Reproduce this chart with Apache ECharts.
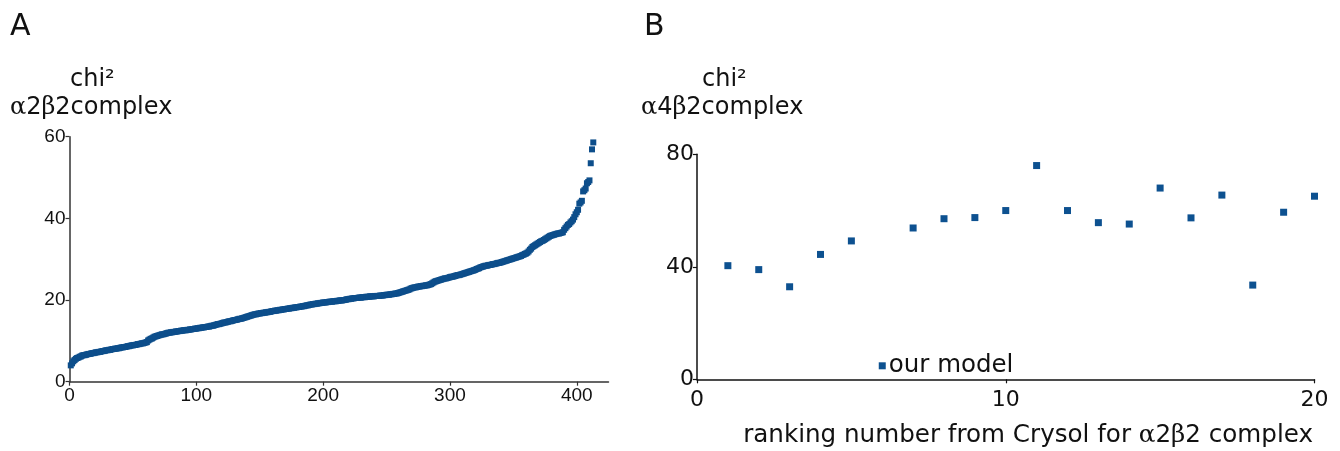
<!DOCTYPE html>
<html>
<head>
<meta charset="utf-8">
<script src="https://cdn.jsdelivr.net/npm/echarts@6/dist/echarts.min.js"></script>
<style>
  html, body { margin: 0; padding: 0; background: #fff; }
  #chart { width: 1340px; height: 451px; }
</style>
</head>
<body>
<div id="chart"></div>
<script>
// Panel A: chi² of every alpha2beta2 complex model, sorted by rank
const chiA = [
  4.0, 4.5, 5.0, 5.3, 5.6, 5.8, 5.9, 6.1, 6.2, 6.4,
  6.5, 6.5, 6.6, 6.7, 6.8, 6.8, 6.9, 7.0, 7.0, 7.1,
  7.2, 7.2, 7.3, 7.3, 7.4, 7.5, 7.5, 7.6, 7.7, 7.7,
  7.8, 7.8, 7.9, 8.0, 8.0, 8.1, 8.1, 8.2, 8.2, 8.3,
  8.4, 8.4, 8.5, 8.5, 8.6, 8.7, 8.7, 8.8, 8.9, 8.9,
  9.0, 9.0, 9.1, 9.2, 9.2, 9.3, 9.4, 9.4, 9.5, 9.6,
  9.7, 10.1, 10.3, 10.5, 10.6, 10.8, 11.0, 11.1, 11.2, 11.3,
  11.4, 11.5, 11.6, 11.6, 11.7, 11.8, 11.9, 12.0, 12.0, 12.1,
  12.1, 12.2, 12.2, 12.3, 12.3, 12.4, 12.4, 12.5, 12.5, 12.6,
  12.6, 12.6, 12.7, 12.7, 12.8, 12.8, 12.9, 12.9, 13.0, 13.0,
  13.1, 13.1, 13.2, 13.2, 13.3, 13.3, 13.4, 13.4, 13.5, 13.5,
  13.6, 13.7, 13.7, 13.8, 13.9, 14.0, 14.1, 14.1, 14.2, 14.3,
  14.4, 14.5, 14.5, 14.6, 14.7, 14.8, 14.8, 14.9, 15.0, 15.1,
  15.1, 15.2, 15.3, 15.4, 15.4, 15.5, 15.6, 15.7, 15.8, 15.9,
  16.0, 16.1, 16.2, 16.3, 16.4, 16.5, 16.5, 16.6, 16.7, 16.7,
  16.8, 16.8, 16.9, 16.9, 17.0, 17.0, 17.1, 17.1, 17.2, 17.3,
  17.3, 17.4, 17.4, 17.5, 17.5, 17.6, 17.6, 17.7, 17.7, 17.8,
  17.8, 17.9, 17.9, 18.0, 18.0, 18.1, 18.1, 18.2, 18.2, 18.3,
  18.3, 18.4, 18.4, 18.5, 18.5, 18.6, 18.7, 18.7, 18.8, 18.9,
  18.9, 19.0, 19.0, 19.1, 19.1, 19.2, 19.2, 19.3, 19.3, 19.4,
  19.4, 19.4, 19.5, 19.5, 19.6, 19.6, 19.6, 19.7, 19.7, 19.7,
  19.8, 19.8, 19.9, 19.9, 19.9, 20.0, 20.0, 20.1, 20.2, 20.2,
  20.3, 20.3, 20.4, 20.4, 20.5, 20.5, 20.5, 20.6, 20.6, 20.6,
  20.7, 20.7, 20.7, 20.8, 20.8, 20.8, 20.9, 20.9, 20.9, 20.9,
  21.0, 21.0, 21.0, 21.0, 21.1, 21.1, 21.1, 21.2, 21.2, 21.3,
  21.3, 21.3, 21.4, 21.4, 21.5, 21.5, 21.6, 21.6, 21.7, 21.8,
  21.9, 22.0, 22.1, 22.2, 22.3, 22.4, 22.5, 22.6, 22.8, 22.9,
  23.0, 23.1, 23.1, 23.2, 23.3, 23.3, 23.4, 23.4, 23.5, 23.5,
  23.6, 23.6, 23.7, 23.8, 23.9, 24.1, 24.3, 24.5, 24.6, 24.7,
  24.8, 24.9, 25.0, 25.1, 25.2, 25.3, 25.3, 25.4, 25.5, 25.6,
  25.7, 25.7, 25.8, 25.9, 26.0, 26.1, 26.1, 26.2, 26.3, 26.4,
  26.5, 26.6, 26.7, 26.8, 26.9, 27.0, 27.1, 27.2, 27.3, 27.4,
  27.6, 27.7, 27.8, 28.0, 28.1, 28.2, 28.3, 28.4, 28.4, 28.5,
  28.6, 28.6, 28.7, 28.8, 28.8, 28.9, 29.0, 29.1, 29.1, 29.2,
  29.3, 29.4, 29.5, 29.6, 29.7, 29.8, 29.9, 30.0, 30.1, 30.2,
  30.3, 30.4, 30.5, 30.6, 30.7, 30.8, 31.0, 31.1, 31.3, 31.4,
  31.6, 31.9, 32.3, 32.6, 33.0, 33.2, 33.4, 33.6, 33.8, 34.0,
  34.2, 34.4, 34.5, 34.7, 34.9, 35.1, 35.3, 35.5, 35.7, 35.8,
  35.9, 36.0, 36.1, 36.2, 36.3, 36.3, 36.4, 36.5, 36.6, 37.2,
  37.6, 38.0, 38.4, 38.6, 39.0, 39.3, 39.7, 40.3, 41.0, 41.5,
  42.1, 43.6, 43.9, 44.3, 46.6, 46.9, 47.3, 48.6, 48.9, 49.3,
  53.5, 56.9, 58.6
];

// Panel B: chi² against the alpha4beta2 complex for the top Crysol ranks
const rankB = [1, 2, 3, 4, 5, 7, 8, 9, 10, 11, 12, 13, 14, 15, 16, 17, 18, 19, 20];
const chiB  = [40.4, 39.0, 32.9, 44.4, 49.2, 53.8, 57.1, 57.5, 60.0, 76.0, 60.0, 55.7, 55.2, 68.0, 57.4, 65.5, 33.5, 59.4, 65.1];
const ourModelRank = 6;
const ourModelChi = 4.8;
const ourModelName = 'our model';

// Tick labels
const ticksAX = [0, 100, 200, 300, 400];
const ticksAY = [0, 20, 40, 60];
const ticksBX = [0, 10, 20];
const ticksBY = [0, 40, 80];

const pointsA = chiA.map((v, i) => [i + 1, v]);
const pointsB = rankB.map((r, i) => [r, chiB[i]]);

const colA = '#0d4e8b';
const colB = '#0d5190';
const dv = '"DejaVu Sans", sans-serif';
const ls = '"Liberation Sans", Arial, sans-serif';

const greek = { g: { fontFamily: '"DejaVu Serif", serif', fontSize: 24, color: '#111' } };
const greekTitle = { g: { fontFamily: '"DejaVu Serif", serif', fontSize: 24.6, color: '#111' } };

function axisCommon(fontFamily, fontSize, lineColor) {
  return {
    axisLine: { show: true, lineStyle: { color: lineColor, width: 1.5 } },
    axisTick: { show: true, length: 4, inside: false, lineStyle: { color: lineColor, width: 1.2 } },
    splitLine: { show: false },
    axisLabel: { fontFamily: fontFamily, fontSize: fontSize, color: '#111' }
  };
}

function mergeAxis(base, extra) {
  const out = Object.assign({}, base, extra);
  out.axisLabel = Object.assign({}, base.axisLabel, extra.axisLabel || {});
  out.axisTick = Object.assign({}, base.axisTick, extra.axisTick || {});
  return out;
}

const chart = echarts.init(document.getElementById('chart'), null, { renderer: 'canvas' });

const option = {
  animation: false,
  backgroundColor: '#ffffff',
  grid: [
    { left: 69.5, top: 136.7, width: 539, height: 245, containLabel: false, outerBoundsMode: 'none' },
    { left: 697, top: 154.3, width: 617.5, height: 225, containLabel: false, outerBoundsMode: 'none' }
  ],
  xAxis: [
    mergeAxis(axisCommon(ls, 19, '#333'), {
      gridIndex: 0, type: 'value', min: 0, max: 425, interval: 100,
      axisLabel: { margin: 5, customValues: ticksAX },
      axisTick: { customValues: ticksAX }
    }),
    mergeAxis(axisCommon(dv, 22, '#111'), {
      gridIndex: 1, type: 'value', min: 0, max: 20, interval: 10,
      axisLabel: { margin: 10, customValues: ticksBX },
      axisTick: { customValues: ticksBX }
    })
  ],
  yAxis: [
    mergeAxis(axisCommon(ls, 19, '#333'), {
      gridIndex: 0, type: 'value', min: 0, max: 60, interval: 20,
      axisLabel: { margin: 4, customValues: ticksAY },
      axisTick: { customValues: ticksAY }
    }),
    mergeAxis(axisCommon(dv, 22, '#111'), {
      gridIndex: 1, type: 'value', min: 0, max: 80, interval: 40,
      axisLabel: { margin: 3, customValues: ticksBY },
      axisTick: { customValues: ticksBY }
    })
  ],
  series: [
    {
      type: 'scatter', xAxisIndex: 0, yAxisIndex: 0,
      data: pointsA, symbol: 'rect', symbolSize: 6,
      itemStyle: { color: colA, opacity: 1 }
    },
    {
      type: 'scatter', xAxisIndex: 1, yAxisIndex: 1,
      data: pointsB, symbol: 'rect', symbolSize: 7,
      itemStyle: { color: colB, opacity: 1 }
    },
    {
      type: 'scatter', xAxisIndex: 1, yAxisIndex: 1,
      data: [[ourModelRank, ourModelChi]], symbol: 'rect', symbolSize: 7,
      itemStyle: { color: colB, opacity: 1 },
      label: {
        show: true, position: 'right', distance: 3, opacity: 1,
        formatter: ourModelName,
        fontFamily: dv, fontSize: 24.5, color: '#111'
      }
    }
  ],
  graphic: [
    { type: 'text', left: 10, top: 12, style: { text: 'A', font: '30px "DejaVu Sans", sans-serif', fill: '#111' } },
    { type: 'text', left: 644, top: 12, style: { text: 'B', font: '30px "DejaVu Sans", sans-serif', fill: '#111' } },
    { type: 'text', x: 70, y: 80, style: { text: 'chi²', font: '24px "DejaVu Sans", sans-serif', fill: '#111', verticalAlign: 'middle' } },
    { type: 'text', x: 10, y: 108, style: { text: '{g|α}2{g|β}2complex', font: '24px "DejaVu Sans", sans-serif', fill: '#111', verticalAlign: 'middle', rich: greek } },
    { type: 'text', x: 702, y: 80, style: { text: 'chi²', font: '24px "DejaVu Sans", sans-serif', fill: '#111', verticalAlign: 'middle' } },
    { type: 'text', x: 641, y: 108, style: { text: '{g|α}4{g|β}2complex', font: '24px "DejaVu Sans", sans-serif', fill: '#111', verticalAlign: 'middle', rich: greek } },
    { type: 'text', x: 1313, y: 436, style: { text: 'ranking number from Crysol for {g|α}2{g|β}2 complex', font: '24.6px "DejaVu Sans", sans-serif', fill: '#111', align: 'right', verticalAlign: 'middle', rich: greekTitle } }
  ]
};

chart.setOption(option);
</script>
</body>
</html>
